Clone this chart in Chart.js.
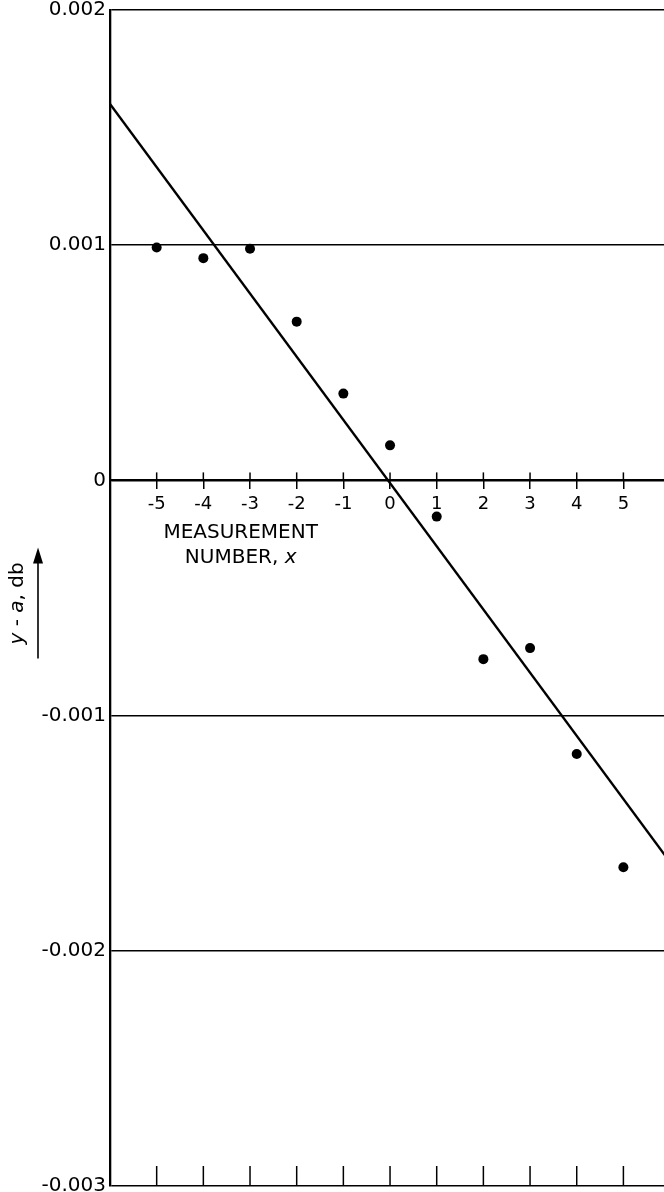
<!DOCTYPE html>
<html><head><meta charset="utf-8">
<script src="https://cdn.jsdelivr.net/npm/chart.js@4/dist/chart.umd.min.js"></script>
<style>html,body{margin:0;padding:0;background:#fff;} canvas{display:block;}</style>
</head><body>
<canvas id="c" width="664" height="1192" style="width:664px;height:1192px"></canvas>
<script>
// ---- data ----
const measurementNumbers = [-5, -4, -3, -2, -1, 0, 1, 2, 3, 4, 5];
const deviations = [0.00099, 0.000945, 0.000985, 0.000675, 0.000369, 0.000149, -0.000154, -0.00076, -0.000713, -0.001163, -0.001645];
const fitLineX = [-6, 6];
const fitLineY = [0.0016, -0.001623];
const xTickValues = [-5, -4, -3, -2, -1, 0, 1, 2, 3, 4, 5];
const xTickLabels = ['-5', '-4', '-3', '-2', '-1', '0', '1', '2', '3', '4', '5'];
const yTickValues = [0.002, 0.001, 0, -0.001, -0.002, -0.003];
const yTickLabels = ['0.002', '0.001', '0', '-0.001', '-0.002', '-0.003'];
const xTitleLine1 = 'MEASUREMENT';
const xTitleLine2 = 'NUMBER, ';
const xTitleVar = 'x';
const yTitleParts = [['y', true], [' - ', false], ['a', true], [', db', false]];

const FONT = '"DejaVu Sans", sans-serif';

const decor = {
  id: 'decor',
  afterDraw(chart) {
    const {ctx, chartArea, scales: {x, y}} = chart;
    const y0 = y.getPixelForValue(0);
    ctx.save();
    ctx.strokeStyle = '#000';
    ctx.lineWidth = 1.5;
    xTickValues.forEach(v => {
      const px = x.getPixelForValue(v);
      ctx.beginPath(); ctx.moveTo(px, y0 - 8); ctx.lineTo(px, y0); ctx.stroke();
      ctx.beginPath(); ctx.moveTo(px, chartArea.bottom); ctx.lineTo(px, chartArea.bottom - 20); ctx.stroke();
    });
    // x axis title
    ctx.fillStyle = '#000';
    ctx.textBaseline = 'alphabetic';
    ctx.font = '20px ' + FONT;
    ctx.textAlign = 'center';
    const cx = x.getPixelForValue(-3.2);
    ctx.fillText(xTitleLine1, cx, y0 + 57.5);
    ctx.textAlign = 'left';
    const w1 = ctx.measureText(xTitleLine2).width;
    ctx.font = 'italic 20px ' + FONT;
    const w2 = ctx.measureText(xTitleVar).width;
    const sx = cx - (w1 + w2) / 2;
    ctx.font = '20px ' + FONT;
    ctx.fillText(xTitleLine2, sx, y0 + 82.5);
    ctx.font = 'italic 20px ' + FONT;
    ctx.fillText(xTitleVar, sx + w1, y0 + 82.5);
    // y axis title (rotated)
    let total = 0;
    yTitleParts.forEach(([t, it]) => { ctx.font = (it ? 'italic ' : '') + '20px ' + FONT; total += ctx.measureText(t).width; });
    ctx.save();
    ctx.translate(23, y0 + 82);
    ctx.rotate(-Math.PI / 2);
    let tx = -total;
    yTitleParts.forEach(([t, it]) => {
      ctx.font = (it ? 'italic ' : '') + '20px ' + FONT;
      ctx.fillText(t, tx, 0);
      tx += ctx.measureText(t).width;
    });
    ctx.restore();
    // arrow
    const ax = 38, aTop = y0 + 67, aBot = y0 + 178;
    ctx.lineWidth = 1.6;
    ctx.beginPath(); ctx.moveTo(ax, aBot); ctx.lineTo(ax, aTop + 10); ctx.stroke();
    ctx.beginPath(); ctx.moveTo(ax, aTop); ctx.lineTo(ax - 5, aTop + 16); ctx.lineTo(ax + 5, aTop + 16); ctx.closePath(); ctx.fill();
    ctx.restore();
  }
};

new Chart(document.getElementById('c'), {
  type: 'scatter',
  data: {
    datasets: [
      {
        label: 'fit',
        data: fitLineX.map((v, i) => ({x: v, y: fitLineY[i]})),
        showLine: true,
        borderColor: '#000',
        borderWidth: 2.4,
        pointRadius: 0,
        fill: false
      },
      {
        label: 'measurements',
        data: measurementNumbers.map((v, i) => ({x: v, y: deviations[i]})),
        pointRadius: 5,
        pointBackgroundColor: '#000',
        pointBorderWidth: 0,
        showLine: false
      }
    ]
  },
  options: {
    responsive: false,
    devicePixelRatio: 1,
    animation: false,
    layout: {autoPadding: false, padding: {top: 10, bottom: 6, left: 0, right: 0}},
    plugins: {legend: {display: false}, tooltip: {enabled: false}, title: {display: false}},
    scales: {
      x: {
        type: 'linear',
        position: {y: 0},
        min: -6,
        max: 5.87,
        afterBuildTicks: s => { s.ticks = xTickValues.map(v => ({value: v})); },
        afterFit: s => { s.paddingLeft = 0; s.paddingRight = 0; },
        ticks: {
          color: '#000',
          font: {family: FONT, size: 18},
          padding: 5,
          maxRotation: 0,
          autoSkip: false,
          callback: (v) => { const i = xTickValues.indexOf(v); return i >= 0 ? xTickLabels[i] : ''; }
        },
        grid: {drawOnChartArea: false, drawTicks: true, tickLength: 8, color: '#000', lineWidth: 1.5},
        border: {display: true, color: '#000', width: 2}
      },
      y: {
        type: 'linear',
        position: 'left',
        min: -0.003,
        max: 0.002,
        afterBuildTicks: s => { s.ticks = yTickValues.map(v => ({value: v})); },
        afterFit: s => { s.width = 110; s.paddingTop = 0; s.paddingBottom = 0; },
        ticks: {
          color: '#000',
          font: {family: FONT, size: 20},
          padding: 4,
          autoSkip: false,
          callback: (v) => { const i = yTickValues.findIndex(t => Math.abs(t - v) < 1e-9); return i >= 0 ? yTickLabels[i] : ''; }
        },
        grid: {drawTicks: false, color: '#000', lineWidth: 1.5},
        border: {display: true, color: '#000', width: 2.3}
      }
    }
  },
  plugins: [decor]
});
</script>
</body></html>
